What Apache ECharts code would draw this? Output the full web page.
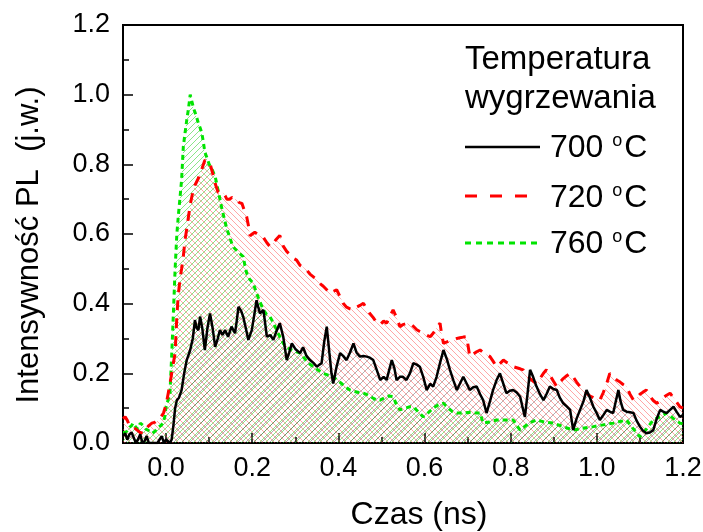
<!DOCTYPE html>
<html>
<head>
<meta charset="utf-8">
<script src="https://cdn.jsdelivr.net/npm/echarts@6/dist/echarts.min.js"></script>
<style>
html,body{margin:0;padding:0;background:#fff;}
#chart{width:703px;height:532px;}
</style>
</head>
<body>
<div id="chart"></div>
<script>
// ---- data (time in ns, normalized PL intensity) ----
const t700 = [-0.100,-0.095,-0.090,-0.085,-0.080,-0.075,-0.070,-0.065,-0.060,-0.055,-0.050,-0.045,-0.040,-0.030,-0.020,-0.015,-0.010,-0.005,0.000,0.009,0.013,0.017,0.021,0.025,0.030,0.036,0.042,0.048,0.056,0.062,0.067,0.071,0.075,0.079,0.084,0.090,0.096,0.102,0.108,0.114,0.120,0.125,0.131,0.137,0.144,0.152,0.160,0.164,0.168,0.174,0.179,0.185,0.191,0.199,0.205,0.210,0.214,0.218,0.226,0.234,0.242,0.249,0.256,0.264,0.272,0.280,0.286,0.292,0.300,0.311,0.318,0.326,0.334,0.342,0.350,0.356,0.361,0.367,0.373,0.379,0.384,0.388,0.396,0.404,0.411,0.419,0.427,0.435,0.442,0.450,0.458,0.466,0.473,0.481,0.489,0.497,0.505,0.512,0.518,0.524,0.530,0.535,0.543,0.550,0.558,0.566,0.574,0.582,0.589,0.597,0.605,0.613,0.620,0.628,0.636,0.644,0.652,0.659,0.667,0.675,0.682,0.690,0.698,0.705,0.713,0.721,0.729,0.736,0.744,0.752,0.759,0.767,0.775,0.783,0.790,0.798,0.806,0.814,0.822,0.828,0.833,0.839,0.845,0.852,0.860,0.868,0.876,0.883,0.891,0.899,0.907,0.914,0.922,0.930,0.938,0.945,0.953,0.961,0.969,0.976,0.984,0.992,1.000,1.007,1.015,1.023,1.030,1.038,1.044,1.050,1.055,1.061,1.069,1.077,1.085,1.092,1.100,1.107,1.115,1.123,1.131,1.139,1.147,1.154,1.162,1.170,1.178,1.185,1.193,1.200];
const v700 = [0.020,0.028,0.010,0.025,0.030,0.015,0.000,0.010,0.025,0.000,0.005,0.020,0.000,0.000,0.000,0.010,0.020,0.000,0.010,0.000,0.010,0.050,0.100,0.123,0.130,0.152,0.200,0.238,0.267,0.300,0.353,0.330,0.324,0.363,0.330,0.267,0.330,0.372,0.330,0.276,0.300,0.324,0.310,0.324,0.305,0.334,0.315,0.350,0.391,0.380,0.363,0.330,0.296,0.324,0.370,0.410,0.390,0.372,0.382,0.305,0.310,0.296,0.320,0.344,0.305,0.238,0.260,0.286,0.270,0.258,0.275,0.250,0.238,0.230,0.219,0.225,0.229,0.290,0.334,0.260,0.200,0.171,0.220,0.258,0.250,0.238,0.260,0.286,0.260,0.248,0.250,0.248,0.245,0.238,0.210,0.181,0.190,0.181,0.210,0.238,0.215,0.181,0.190,0.190,0.181,0.200,0.229,0.225,0.219,0.190,0.152,0.170,0.162,0.190,0.230,0.267,0.240,0.210,0.180,0.152,0.170,0.190,0.170,0.152,0.160,0.162,0.140,0.123,0.086,0.120,0.152,0.180,0.200,0.170,0.143,0.150,0.152,0.145,0.133,0.100,0.075,0.140,0.210,0.190,0.162,0.140,0.123,0.140,0.162,0.155,0.152,0.130,0.114,0.105,0.095,0.037,0.070,0.095,0.120,0.152,0.130,0.104,0.085,0.066,0.080,0.095,0.090,0.086,0.120,0.152,0.120,0.095,0.090,0.088,0.086,0.065,0.047,0.035,0.028,0.030,0.037,0.070,0.095,0.090,0.086,0.095,0.104,0.090,0.075,0.080];

const t720 = [-0.100,-0.095,-0.090,-0.085,-0.080,-0.075,-0.070,-0.065,-0.060,-0.053,-0.047,-0.040,-0.033,-0.025,-0.018,-0.012,-0.006,0.000,0.005,0.009,0.013,0.017,0.021,0.025,0.028,0.032,0.036,0.040,0.044,0.048,0.052,0.057,0.063,0.067,0.071,0.075,0.079,0.084,0.090,0.096,0.102,0.106,0.110,0.114,0.118,0.121,0.127,0.133,0.137,0.141,0.147,0.153,0.158,0.164,0.170,0.176,0.181,0.187,0.191,0.195,0.200,0.206,0.212,0.218,0.226,0.234,0.241,0.249,0.256,0.264,0.268,0.272,0.280,0.288,0.296,0.303,0.311,0.318,0.326,0.334,0.342,0.350,0.357,0.365,0.373,0.380,0.388,0.396,0.404,0.411,0.419,0.427,0.435,0.442,0.450,0.458,0.466,0.473,0.481,0.489,0.497,0.505,0.512,0.520,0.527,0.535,0.543,0.550,0.558,0.566,0.574,0.582,0.589,0.597,0.605,0.613,0.620,0.628,0.636,0.640,0.644,0.652,0.659,0.667,0.675,0.682,0.690,0.698,0.701,0.705,0.713,0.721,0.729,0.736,0.744,0.752,0.759,0.767,0.775,0.783,0.790,0.798,0.806,0.814,0.822,0.829,0.837,0.845,0.852,0.860,0.868,0.876,0.883,0.891,0.899,0.907,0.915,0.922,0.930,0.938,0.945,0.953,0.961,0.968,0.976,0.984,0.992,1.000,1.007,1.015,1.023,1.030,1.038,1.046,1.054,1.061,1.069,1.077,1.085,1.092,1.100,1.107,1.115,1.123,1.131,1.139,1.147,1.154,1.162,1.170,1.178,1.185,1.193,1.200];
const v720 = [0.070,0.075,0.065,0.050,0.047,0.045,0.040,0.035,0.030,0.028,0.040,0.050,0.057,0.060,0.066,0.075,0.086,0.110,0.143,0.170,0.200,0.230,0.258,0.363,0.420,0.468,0.500,0.535,0.583,0.615,0.650,0.690,0.726,0.740,0.745,0.760,0.774,0.790,0.812,0.810,0.803,0.784,0.765,0.745,0.730,0.720,0.720,0.717,0.710,0.700,0.700,0.705,0.700,0.700,0.690,0.688,0.670,0.650,0.625,0.595,0.600,0.605,0.600,0.595,0.590,0.575,0.564,0.574,0.585,0.596,0.580,0.565,0.550,0.540,0.530,0.525,0.510,0.505,0.497,0.485,0.477,0.468,0.458,0.450,0.440,0.430,0.435,0.440,0.420,0.401,0.390,0.385,0.382,0.390,0.395,0.401,0.385,0.372,0.360,0.345,0.340,0.350,0.344,0.365,0.382,0.360,0.334,0.340,0.343,0.344,0.335,0.325,0.320,0.315,0.310,0.305,0.315,0.330,0.344,0.310,0.286,0.290,0.294,0.296,0.300,0.302,0.304,0.305,0.280,0.248,0.255,0.262,0.267,0.260,0.254,0.248,0.235,0.219,0.228,0.238,0.232,0.225,0.219,0.216,0.213,0.210,0.195,0.185,0.178,0.171,0.185,0.200,0.210,0.195,0.178,0.162,0.175,0.185,0.193,0.200,0.190,0.175,0.162,0.153,0.143,0.135,0.130,0.126,0.123,0.145,0.171,0.200,0.190,0.181,0.175,0.168,0.162,0.140,0.123,0.130,0.140,0.146,0.152,0.135,0.122,0.114,0.120,0.130,0.137,0.143,0.130,0.118,0.104,0.100];

const t760 = [-0.100,-0.095,-0.090,-0.085,-0.080,-0.077,-0.070,-0.065,-0.060,-0.053,-0.047,-0.040,-0.037,-0.032,-0.025,-0.018,-0.012,-0.007,-0.003,0.000,0.005,0.009,0.013,0.017,0.021,0.025,0.029,0.032,0.036,0.040,0.044,0.048,0.052,0.056,0.060,0.064,0.067,0.071,0.075,0.079,0.083,0.087,0.090,0.094,0.100,0.107,0.114,0.120,0.125,0.130,0.135,0.141,0.148,0.155,0.162,0.170,0.179,0.183,0.187,0.194,0.202,0.206,0.210,0.218,0.226,0.233,0.241,0.249,0.257,0.264,0.272,0.280,0.290,0.300,0.311,0.320,0.330,0.342,0.352,0.365,0.376,0.388,0.398,0.408,0.417,0.427,0.437,0.448,0.458,0.468,0.479,0.489,0.497,0.507,0.517,0.527,0.535,0.543,0.555,0.566,0.574,0.585,0.597,0.607,0.620,0.632,0.644,0.655,0.665,0.675,0.690,0.705,0.720,0.729,0.736,0.750,0.767,0.786,0.806,0.814,0.822,0.835,0.848,0.860,0.880,0.899,0.920,0.945,0.965,0.992,1.015,1.038,1.055,1.069,1.085,1.100,1.115,1.131,1.147,1.162,1.178,1.193,1.200];
const v760 = [0.030,0.030,0.035,0.045,0.050,0.057,0.045,0.040,0.057,0.050,0.040,0.035,0.037,0.028,0.035,0.045,0.050,0.057,0.075,0.104,0.125,0.143,0.250,0.373,0.500,0.600,0.660,0.700,0.755,0.850,0.890,0.927,0.960,1.000,0.980,0.960,0.950,0.935,0.918,0.905,0.890,0.860,0.835,0.822,0.800,0.785,0.765,0.730,0.700,0.670,0.645,0.615,0.590,0.564,0.555,0.545,0.535,0.510,0.488,0.470,0.459,0.445,0.430,0.405,0.382,0.370,0.363,0.345,0.324,0.305,0.286,0.275,0.268,0.263,0.258,0.245,0.230,0.219,0.210,0.200,0.195,0.190,0.180,0.170,0.160,0.152,0.148,0.145,0.143,0.138,0.130,0.123,0.123,0.130,0.135,0.133,0.110,0.095,0.100,0.104,0.104,0.090,0.075,0.085,0.100,0.110,0.114,0.100,0.090,0.086,0.086,0.088,0.086,0.086,0.057,0.060,0.066,0.066,0.066,0.050,0.037,0.050,0.060,0.066,0.060,0.057,0.048,0.037,0.042,0.047,0.052,0.057,0.062,0.066,0.040,0.018,0.040,0.066,0.075,0.086,0.070,0.057,0.055];

const xMajorTicks = [0.0, 0.2, 0.4, 0.6, 0.8, 1.0, 1.2];
const xMinorTicks = [0.1, 0.3, 0.5, 0.7, 0.9, 1.1];
const seriesNames = ['700', '720', '760'];

// ---- helpers ----
function pairs(t, v) { return t.map((x, i) => [x, v[i]]); }
function hatch(color, dir, size, lw) {
  const c = document.createElement('canvas');
  c.width = size; c.height = size;
  const g = c.getContext('2d');
  g.strokeStyle = color; g.lineWidth = lw;
  g.beginPath();
  if (dir === '/') {
    g.moveTo(-1, size + 1); g.lineTo(size + 1, -1);
    g.moveTo(-1, 1); g.lineTo(1, -1);
    g.moveTo(size - 1, size + 1); g.lineTo(size + 1, size - 1);
  } else {
    g.moveTo(-1, -1); g.lineTo(size + 1, size + 1);
    g.moveTo(size - 1, -1); g.lineTo(size + 1, 1);
    g.moveTo(-1, size - 1); g.lineTo(1, size + 1);
  }
  g.stroke();
  return c;
}

const FONT = '"Liberation Sans", Arial, sans-serif';
const colors = { '700': '#000000', '720': '#ff0000', '760': '#00e400' };
const hatches = {
  '700': hatch('rgba(60,60,60,0.4)', '/', 8, 1),
  '720': hatch('rgba(255,60,60,0.45)', '\\', 6, 1),
  '760': hatch('rgba(40,210,40,0.55)', '/', 6, 1)
};
const dataMap = { '700': pairs(t700, v700), '720': pairs(t720, v720), '760': pairs(t760, v760) };

const areaSeries = ['760', '720', '700'].map(n => ({
  type: 'line', name: n + ' area', data: dataMap[n], showSymbol: false, silent: true,
  lineStyle: { width: 0 }, areaStyle: { color: { image: hatches[n], repeat: 'repeat' }, opacity: 1 },
  z: 1, animation: false
}));
const lineDefs = {
  '760': { width: 3, type: [5, 4] },
  '720': { width: 3, type: [10, 8] },
  '700': { width: 2.5, type: 'solid' }
};
const lineSeries = ['760', '720', '700'].map(n => ({
  type: 'line', name: n, data: dataMap[n], showSymbol: false, silent: true,
  lineStyle: { color: colors[n], width: lineDefs[n].width, type: lineDefs[n].type },
  z: 3, animation: false
}));

const chart = echarts.init(document.getElementById('chart'), null, { renderer: 'canvas' });
const legendY = [148, 198, 244];
const option = {
  animation: false,
  backgroundColor: '#fff',
  grid: { left: 123, right: 20, top: 25, bottom: 89, containLabel: false, outerBoundsMode: 'none', show: true, borderColor: '#000', borderWidth: 2, backgroundColor: 'transparent' },
  xAxis: [{
    type: 'value', min: -0.1, max: 1.2, position: 'bottom',
    axisLine: { show: true, onZero: false, lineStyle: { color: '#000', width: 2 } },
    axisTick: { show: true, inside: true, length: 10, lineStyle: { color: '#000', width: 1.5 }, customValues: xMajorTicks },
    axisLabel: { customValues: xMajorTicks, formatter: v => v.toFixed(1), fontSize: 27, fontFamily: FONT, color: '#000', margin: 12 },
    splitLine: { show: false },
    name: 'Czas (ns)', nameLocation: 'middle', nameGap: 56,
    nameTextStyle: { fontSize: 32, fontFamily: FONT, color: '#000', padding: [0, 0, 0, 32] }
  }, {
    type: 'value', min: -0.1, max: 1.2, position: 'bottom',
    axisLine: { show: false, onZero: false },
    axisTick: { show: true, inside: true, length: 6, lineStyle: { color: '#000', width: 1.5 }, customValues: xMinorTicks },
    axisLabel: { show: false },
    splitLine: { show: false }
  }],
  yAxis: {
    type: 'value', min: 0, max: 1.2, interval: 0.2,
    axisLine: { show: true, onZero: false, lineStyle: { color: '#000', width: 2 } },
    axisTick: { show: true, inside: true, length: 10, lineStyle: { color: '#000', width: 1.5 } },
    minorTick: { show: true, splitNumber: 2, length: 6, lineStyle: { color: '#000', width: 1.5 } },
    axisLabel: { formatter: v => v.toFixed(1), fontSize: 27, fontFamily: FONT, color: '#000', margin: 13 },
    splitLine: { show: false },
    name: 'Intensywność PL  (j.w.)', nameLocation: 'middle', nameGap: 78,
    nameTextStyle: { fontSize: 31, fontFamily: FONT, color: '#000', padding: [0, 22, 0, 0] }
  },
  series: areaSeries.concat(lineSeries),
  graphic: [
    { type: 'text', left: 465, top: 43, style: { text: 'Temperatura', font: '33px ' + FONT, fill: '#000' } },
    { type: 'text', left: 465, top: 82, style: { text: 'wygrzewania', font: '33px ' + FONT, fill: '#000' } },
    { type: 'line', shape: { x1: 465, y1: 147, x2: 540, y2: 147 }, style: { stroke: '#000', lineWidth: 2.5 } },
    { type: 'line', shape: { x1: 465, y1: 196, x2: 528, y2: 196 }, style: { stroke: '#ff0000', lineWidth: 3, lineDash: [12, 13] } },
    { type: 'line', shape: { x1: 465, y1: 243, x2: 540, y2: 243 }, style: { stroke: '#00e400', lineWidth: 3, lineDash: [6, 5] } }
  ].concat(seriesNames.map((n, i) => ({
    type: 'text', left: 550, top: legendY[i] - 16,
    style: {
      text: n + ' {s|o}C', font: '32px ' + FONT, fill: '#000',
      rich: { s: { fontSize: 18, fontFamily: FONT, verticalAlign: 'top', padding: [0, 2, 14, 0] } }
    }
  })))
};
chart.setOption(option);
</script>
</body>
</html>
